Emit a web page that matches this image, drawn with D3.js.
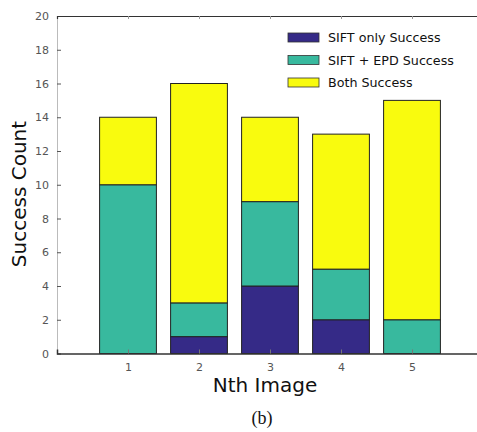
<!DOCTYPE html>
<html><head><meta charset="utf-8">
<script src="https://cdn.jsdelivr.net/npm/d3@7"></script>
<style>body{margin:0;background:#fff}svg{display:block}</style>
</head><body>
<svg id="c" width="477" height="432"></svg>
<script>
const categories = ["1","2","3","4","5"];
const siftOnly = [0, 1, 4, 2, 0];
const siftEpd = [10, 2, 5, 3, 2];
const both = [4, 13, 5, 8, 13];
const seriesNames = ["SIFT only Success", "SIFT + EPD Success", "Both Success"];
const seriesColors = ["#352a87", "#38b99e", "#f9fb0e"];
const yTicks = [0,2,4,6,8,10,12,14,16,18,20];

const svg = d3.select("#c");
const L = 57, R = 483, T = 16, B = 353.5;
const x = d3.scaleLinear().domain([0, 6]).range([L, R]);
const y = d3.scaleLinear().domain([0, 20]).range([B, T]);
const bw = (x(1) - x(0)) * 0.8;

const rows = categories.map((c, i) => ({cat: +c, s0: siftOnly[i], s1: siftEpd[i], s2: both[i]}));
const stack = d3.stack().keys(["s0","s1","s2"])(rows);

const g = svg.append("g");
stack.forEach((layer, k) => {
  g.selectAll(null).data(layer.filter(d => d[1] - d[0] > 0)).enter().append("rect")
    .attr("x", d => x(d.data.cat) - bw/2)
    .attr("y", d => y(d[1]))
    .attr("width", bw)
    .attr("height", d => y(d[0]) - y(d[1]))
    .attr("fill", seriesColors[k])
    .attr("stroke", "#222")
    .attr("stroke-width", 1);
});

// axes
const yAxis = d3.axisLeft(y).tickValues(yTicks).tickSize(-4).tickPadding(8);
const yg = svg.append("g").attr("transform", `translate(${L},0)`).call(yAxis);
yg.select(".domain").attr("stroke", "#bbb");
yg.selectAll(".tick line").attr("stroke", "#555");
yg.selectAll("text").attr("font-family", "DejaVu Sans").attr("font-size", 11).attr("fill", "#555");

const xAxis = d3.axisBottom(x).tickValues([1,2,3,4,5]).tickFormat(d => categories[d-1]).tickSize(-4).tickPadding(10);
const xg = svg.append("g").attr("transform", `translate(0,${B})`).call(xAxis);
xg.select(".domain").attr("stroke", "#333").attr("stroke-width", 1.5);
xg.selectAll(".tick line").attr("stroke", "#777");
xg.selectAll("text").attr("font-family", "DejaVu Sans").attr("font-size", 11).attr("fill", "#555");

// top line with ticks
const tg = svg.append("g").attr("transform", `translate(0,${T})`)
  .call(d3.axisTop(x).tickValues([1,2,3,4,5]).tickSize(-3).tickFormat(""));
tg.select(".domain").attr("stroke", "#333").attr("stroke-width", 1.2);
tg.selectAll(".tick line").attr("stroke", "#999");

// labels
svg.append("text").attr("transform", "translate(26,194) rotate(-90)")
  .attr("text-anchor", "middle").attr("font-family", "DejaVu Sans").attr("font-size", 20)
  .attr("fill", "#111").text("Success Count");
svg.append("text").attr("x", 265).attr("y", 392).attr("text-anchor", "middle")
  .attr("font-family", "DejaVu Sans").attr("font-size", 20).attr("fill", "#111").text("Nth Image");
svg.append("text").attr("x", 262).attr("y", 424).attr("text-anchor", "middle")
  .attr("font-family", "Liberation Serif").attr("font-size", 18).attr("fill", "#111").text("(b)");

// legend
const lg = svg.append("g");
seriesNames.forEach((n, i) => {
  const yy = 33 + i * 22.5;
  lg.append("rect").attr("x", 288).attr("y", yy).attr("width", 31).attr("height", 9)
    .attr("fill", seriesColors[i]).attr("stroke", "#333").attr("stroke-width", 0.8);
  lg.append("text").attr("x", 328).attr("y", yy + 9)
    .attr("font-family", "DejaVu Sans").attr("font-size", 12.7).attr("fill", "#111").text(n);
});
</script>
</body></html>
